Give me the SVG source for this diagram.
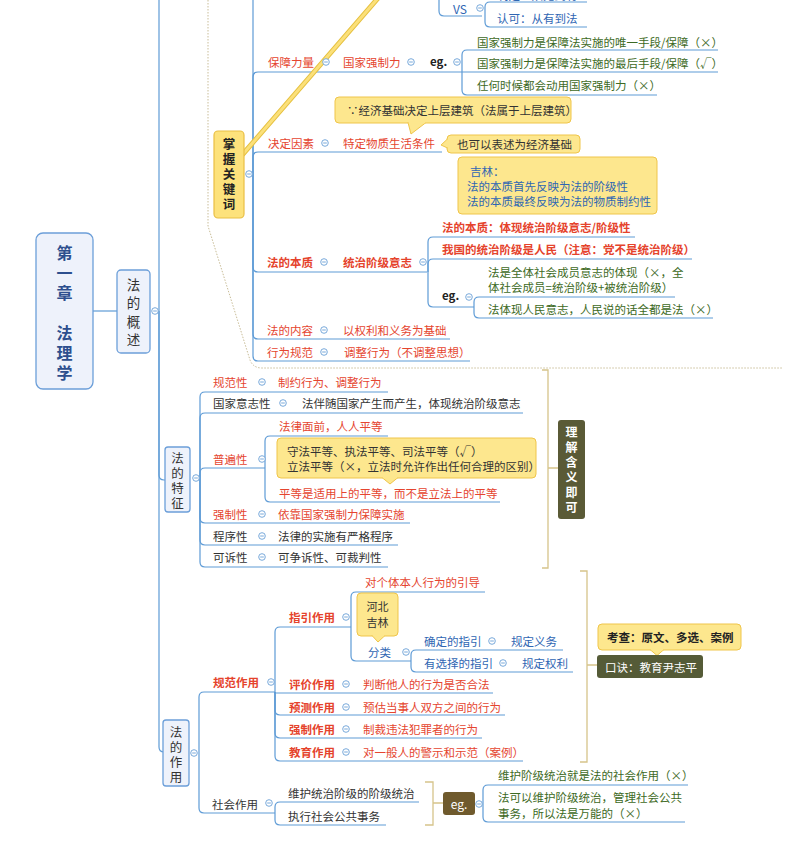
<svg xmlns="http://www.w3.org/2000/svg" xmlns:xlink="http://www.w3.org/1999/xlink" width="790" height="841" viewBox="0 0 790 841">
<style>
.t{font-family:"Noto Sans CJK SC","Noto Sans",sans-serif;font-size:11.5px;dominant-baseline:central}
.v{font-family:"Noto Sans CJK SC","Noto Sans",sans-serif;writing-mode:vertical-rl;text-orientation:upright}
.r{fill:#e5452f}.rb{fill:#e5432c;font-weight:bold}.b{fill:#2f66b3}.g{fill:#3d6a24}.d{fill:#333}.db{fill:#222;font-weight:bold}
.w{fill:#fff}
.ln{fill:none;stroke:#5e9bd6;stroke-width:1.2}
.br{fill:none;stroke:#d6c48a;stroke-width:1.3}
.co{fill:#fde78e;stroke:#efc54a;stroke-width:1}
.box{fill:#eef2fb;stroke:#6c9fd9;stroke-width:1.3}
.dk{fill:#5a5a36}
</style>
<defs>
<g id="c"><circle r="3.3" fill="#fff" stroke="#6a9fd6" stroke-width="0.9"/><line x1="-1.8" x2="1.8" y1="0" y2="0" stroke="#6a9fd6" stroke-width="0.9"/></g>
</defs>
<rect width="790" height="841" fill="#fff"/>

<!-- boundary -->
<path d="M208,0 V226 L250,360 Q253,368 262,368 H782" fill="none" stroke="#c9bd98" stroke-width="1" stroke-dasharray="1.5 1.5"/>

<g id="connectors">
<path class="ln" d="M93,311 H117"/>
<path class="ln" d="M159,311 V-5"/>
<path class="ln" d="M159,311 V475 Q159,480 164,480 H165"/>
<path class="ln" d="M159,311 V747 Q159,752 164,752"/>
<path class="ln" d="M253,174 V-5"/>
<path class="ln" d="M253,174 V77 Q253,72 258,72 H718"/>
<path class="ln" d="M253,174 V157 Q253,152 258,152 H442"/>
<path class="ln" d="M253,174 V267 Q253,272 258,272 H427"/>
<path class="ln" d="M253,174 V334 Q253,339 258,339 H450"/>
<path class="ln" d="M253,174 V356 Q253,361 258,361 H470"/>
<path class="ln" d="M439,-10 V11 Q439,16 444,16 H482"/>
<path class="ln" d="M485,16 V7 Q485,2 490,2 H587"/>
<path class="ln" d="M485,16 V22 Q485,27 490,27 H587"/>
<path class="ln" d="M462,72 V55 Q462,50 467,50 H718"/>
<path class="ln" d="M462,72 V90 Q462,95 467,95 H657"/>
<path class="ln" d="M428,272 V242 Q428,237 433,237 H635"/>
<path class="ln" d="M428,272 V264 Q428,259 433,259 H692"/>
<path class="ln" d="M428,272 V302 Q428,307 433,307 H474"/>
<path class="ln" d="M474,307 V302 Q474,297 479,297 H675"/>
<path class="ln" d="M474,307 V313 Q474,318 479,318 H713"/>
<path class="ln" d="M200,478 V397 Q200,392 205,392 H388"/>
<path class="ln" d="M200,478 V418 Q200,413 205,413 H523"/>
<path class="ln" d="M200,478 V473 Q200,468 205,468 H265"/>
<path class="ln" d="M200,478 V518 Q200,523 205,523 H410"/>
<path class="ln" d="M200,478 V540 Q200,545 205,545 H398"/>
<path class="ln" d="M200,478 V562 Q200,567 205,567 H388"/>
<path class="ln" d="M265,468 V441 Q265,436 270,436 H388"/>
<path class="ln" d="M265,468 V497 Q265,502 270,502 H500"/>
<path class="ln" d="M199,753 V697 Q199,692 204,692 H275"/>
<path class="ln" d="M199,753 V808 Q199,813 204,813 H275"/>
<path class="ln" d="M275,692 V632 Q275,627 280,627 H351"/>
<path class="ln" d="M275,692 V693 H493"/>
<path class="ln" d="M275,692 V710 Q275,715 280,715 H505"/>
<path class="ln" d="M275,692 V733 Q275,738 280,738 H482"/>
<path class="ln" d="M275,692 V756 Q275,761 280,761 H523"/>
<path class="ln" d="M351,627 V597 Q351,592 356,592 H485"/>
<path class="ln" d="M351,627 V656 Q351,661 356,661 H411"/>
<path class="ln" d="M411,661 V655 Q411,650 416,650 H563"/>
<path class="ln" d="M411,661 V667 Q411,672 416,672 H573"/>
<path class="ln" d="M275,813 V807 Q275,802 280,802 H419"/>
<path class="ln" d="M275,813 V820 Q275,825 280,825 H386"/>
<path class="ln" d="M483,804 V790 Q483,785 488,785 H688"/>
<path class="ln" d="M483,804 V817 Q483,822 488,822 H685"/>
<path class="br" d="M542,370 H548 V568 H542 M548,468 H558"/>
<path class="br" d="M580,571 H587 V762 H580 M587,665 H597"/>
<path class="br" d="M425,782 H433 V825 H425 M433,803 H443"/>
</g>

<g id="callout-line">
<line x1="243" y1="154" x2="379" y2="-3" stroke="#e6c140" stroke-width="5" stroke-linecap="round"/>
<line x1="243" y1="154" x2="379" y2="-3" stroke="#fbe07a" stroke-width="3" stroke-linecap="round"/>
</g>

<g id="main">
<rect class="box" x="36" y="233" width="57" height="156" rx="7"/>
<text class="v" x="64.5" y="245" style="font-size:16px;font-weight:bold;fill:#2d4f8e;letter-spacing:4px">第一章</text>
<text class="v" x="64.5" y="325" style="font-size:16px;font-weight:bold;fill:#2d4f8e;letter-spacing:4px">法理学</text>
</g>

<g id="gaishu">
<rect class="box" x="117" y="270" width="33" height="83" rx="4"/>
<text class="v d" x="133.5" y="278.3" style="font-size:13.5px;letter-spacing:4.8px">法的概述</text>
<use href="#c" x="155" y="311"/>
</g>

<g id="zhangwo">
<rect x="214" y="131" width="30" height="87" rx="4" fill="#fde27c" stroke="#e9bf45" stroke-width="1.2"/>
<text class="v db" x="229" y="137.8" style="font-size:12.5px;letter-spacing:2.5px">掌握关键词</text>
<use href="#c" x="249" y="174"/>
</g>

<g id="vs">
<text class="t b" x="497" y="-5">制定：从无到有</text>
<text class="t b" x="453" y="8.5" style="font-size:12px">VS</text>
<use href="#c" x="480" y="8"/>
<text class="t b" x="497" y="18">认可：从有到法</text>
</g>

<g id="baozhang">
<text class="t r" x="268" y="62">保障力量</text><use href="#c" x="326" y="62"/>
<text class="t r" x="343" y="62">国家强制力</text><use href="#c" x="411" y="62"/>
<text class="t db" x="430" y="61">eg.</text><use href="#c" x="457" y="62"/>
<text class="t g" x="477" y="42">国家强制力是保障法实施的唯一手段/保障（×）</text>
<text class="t g" x="477" y="63">国家强制力是保障法实施的最后手段/保障（√）</text>
<text class="t g" x="477" y="85">任何时候都会动用国家强制力（×）</text>
</g>

<g id="jueding">
<rect class="co" x="335" y="97" width="236" height="26" rx="4"/>
<polygon points="408,122.5 426,122.5 411,134" fill="#fde78e" stroke="#efc54a" stroke-width="1"/>
<line x1="408.5" y1="122.5" x2="425.5" y2="122.5" stroke="#fde78e" stroke-width="1.6"/>
<text class="t d" x="347" y="110">∵经济基础决定上层建筑（法属于上层建筑）</text>
<text class="t r" x="268" y="143">决定因素</text><use href="#c" x="325" y="143"/>
<text class="t r" x="343" y="143">特定物质生活条件</text>
<rect class="co" x="447" y="135" width="133" height="18" rx="4"/>
<polygon points="447.5,139 447.5,148 441,145" fill="#fde78e" stroke="#efc54a" stroke-width="1"/>
<line x1="447.5" y1="139.5" x2="447.5" y2="147.5" stroke="#fde78e" stroke-width="1.6"/>
<text class="t d" x="457" y="144">也可以表述为经济基础</text>
</g>

<g id="jilin">
<rect class="co" x="458" y="157" width="199" height="57" rx="4"/>
<text class="t b" x="470" y="171">吉林：</text>
<text class="t b" x="467" y="186">法的本质首先反映为法的阶级性</text>
<text class="t b" x="467" y="201">法的本质最终反映为法的物质制约性</text>
</g>

<g id="benzhi">
<text class="t rb" x="442" y="227">法的本质：体现统治阶级意志/阶级性</text>
<text class="t rb" x="442" y="249">我国的统治阶级是人民（注意：党不是统治阶级）</text>
<text class="t rb" x="267" y="262">法的本质</text><use href="#c" x="324" y="262"/>
<text class="t rb" x="343" y="262">统治阶级意志</text><use href="#c" x="423" y="262"/>
<text class="t db" x="442" y="295">eg.</text><use href="#c" x="469" y="297"/>
<text class="t g" x="488" y="272">法是全体社会成员意志的体现（×，全</text>
<text class="t g" x="488" y="287">体社会成员=统治阶级+被统治阶级）</text>
<text class="t g" x="488" y="309">法体现人民意志，人民说的话全都是法（×）</text>
</g>

<g id="neirong">
<text class="t r" x="267" y="330">法的内容</text><use href="#c" x="324" y="330"/>
<text class="t r" x="343" y="330">以权利和义务为基础</text>
<text class="t r" x="267" y="352">行为规范</text><use href="#c" x="324" y="352"/>
<text class="t r" x="344" y="352">调整行为（不调整思想）</text>
</g>

<g id="tezheng">
<rect class="box" x="165" y="447" width="25" height="65" rx="3"/>
<text class="v d" x="177.5" y="451.8" style="font-size:12.5px;letter-spacing:2.5px">法的特征</text>
<use href="#c" x="196" y="478"/>
<text class="t r" x="213" y="382">规范性</text><use href="#c" x="262" y="382"/>
<text class="t r" x="278" y="382">制约行为、调整行为</text>
<text class="t d" x="213" y="403">国家意志性</text><use href="#c" x="283" y="403"/>
<text class="t d" x="302" y="403">法伴随国家产生而产生，体现统治阶级意志</text>
<text class="t r" x="213" y="459">普遍性</text><use href="#c" x="262" y="459"/>
<text class="t r" x="279" y="426">法律面前，人人平等</text>
<rect class="co" x="277" y="438" width="259" height="40" rx="4"/>
<polygon points="382,477.5 398,477.5 390,484" fill="#fde78e" stroke="#efc54a" stroke-width="1"/>
<line x1="382.5" y1="477.5" x2="397.5" y2="477.5" stroke="#fde78e" stroke-width="1.6"/>
<text class="t d" x="287" y="451">守法平等、执法平等、司法平等（√）</text>
<text class="t d" x="287" y="466">立法平等（×，立法时允许作出任何合理的区别）</text>
<text class="t r" x="279" y="493">平等是适用上的平等，而不是立法上的平等</text>
<text class="t r" x="213" y="514">强制性</text><use href="#c" x="262" y="514"/>
<text class="t r" x="278" y="514">依靠国家强制力保障实施</text>
<text class="t d" x="213" y="536">程序性</text><use href="#c" x="262" y="536"/>
<text class="t d" x="278" y="536">法律的实施有严格程序</text>
<text class="t d" x="213" y="557">可诉性</text><use href="#c" x="262" y="557"/>
<text class="t d" x="278" y="557">可争诉性、可裁判性</text>
</g>

<g id="lijie">
<rect class="dk" x="558" y="420" width="27" height="99" rx="3"/>
<text class="v w" x="571.5" y="426" style="font-size:12px;font-weight:bold;letter-spacing:3px">理解含义即可</text>
</g>

<g id="zuoyong">
<rect class="box" x="163" y="720" width="26" height="66" rx="3"/>
<text class="v d" x="176" y="725.8" style="font-size:12.5px;letter-spacing:2.5px">法的作用</text>
<use href="#c" x="194" y="753"/>
</g>

<g id="guifan">
<text class="t rb" x="213" y="682">规范作用</text><use href="#c" x="271" y="682"/>
<text class="t rb" x="289" y="617">指引作用</text><use href="#c" x="346" y="617"/>
<text class="t r" x="365" y="582">对个体本人行为的引导</text>
<rect class="co" x="357" y="593" width="41" height="43" rx="4"/>
<polygon points="372,635.5 385,635.5 378,642" fill="#fde78e" stroke="#efc54a" stroke-width="1"/>
<line x1="372.5" y1="635.5" x2="384.5" y2="635.5" stroke="#fde78e" stroke-width="1.6"/>
<text class="t d" x="377.5" y="606" style="font-size:11px;text-anchor:middle">河北</text>
<text class="t d" x="377.5" y="622" style="font-size:11px;text-anchor:middle">吉林</text>
<text class="t b" x="368" y="652">分类</text><use href="#c" x="406" y="652"/>
<text class="t b" x="424" y="641">确定的指引</text><use href="#c" x="492" y="641"/>
<text class="t b" x="511" y="641">规定义务</text>
<text class="t b" x="424" y="663">有选择的指引</text><use href="#c" x="503" y="663"/>
<text class="t b" x="522" y="663">规定权利</text>
<text class="t rb" x="289" y="684">评价作用</text><use href="#c" x="346" y="684"/>
<text class="t r" x="363" y="684">判断他人的行为是否合法</text>
<text class="t rb" x="289" y="707">预测作用</text><use href="#c" x="346" y="707"/>
<text class="t r" x="363" y="707">预估当事人双方之间的行为</text>
<text class="t rb" x="289" y="729">强制作用</text><use href="#c" x="346" y="729"/>
<text class="t r" x="363" y="729">制裁违法犯罪者的行为</text>
<text class="t rb" x="289" y="752">教育作用</text><use href="#c" x="346" y="752"/>
<text class="t r" x="363" y="752">对一般人的警示和示范（案例）</text>
</g>

<g id="kaocha">
<rect class="co" x="598" y="624" width="143" height="26" rx="4"/>
<polygon points="650,649.5 664,649.5 657,655.5" fill="#fde78e" stroke="#efc54a" stroke-width="1"/>
<line x1="650.5" y1="649.5" x2="663.5" y2="649.5" stroke="#fde78e" stroke-width="1.6"/>
<text class="t db" x="607" y="637">考查：原文、多选、案例</text>
<rect x="597" y="655" width="106" height="23" rx="3" fill="#555b37"/>
<text class="t w" x="605" y="667">口诀：教育尹志平</text>
</g>

<g id="shehui">
<text class="t d" x="212" y="804">社会作用</text><use href="#c" x="269" y="803"/>
<text class="t d" x="288" y="793">维护统治阶级的阶级统治</text>
<text class="t d" x="288" y="816">执行社会公共事务</text>
<rect x="443" y="792" width="32" height="23" rx="3" fill="#6f5a2d"/>
<text class="t w" x="459" y="803" style="text-anchor:middle;font-size:12px">eg.</text>
<use href="#c" x="479" y="804"/>
<text class="t g" x="498" y="775">维护阶级统治就是法的社会作用（×）</text>
<text class="t g" x="498" y="797">法可以维护阶级统治，管理社会公共</text>
<text class="t g" x="498" y="813">事务，所以法是万能的（×）</text>
</g>
</svg>
